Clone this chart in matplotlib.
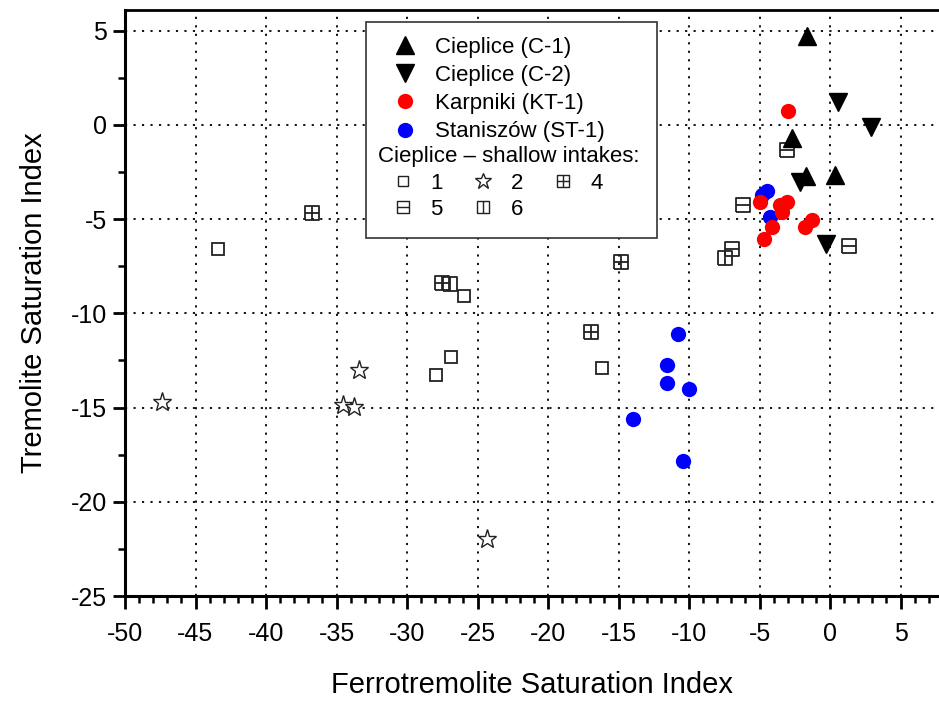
import matplotlib
matplotlib.use("Agg")
import matplotlib.pyplot as plt
from matplotlib.path import Path
from matplotlib.lines import Line2D
from matplotlib.patches import Rectangle
from matplotlib.ticker import MultipleLocator

plt.rcParams['font.family'] = ['Liberation Sans', 'DejaVu Sans']
plt.rcParams['axes.unicode_minus'] = False

# --- data ---
c1_x = [-1.6, -2.7, -1.7, 0.35]
c1_y = [4.7, -0.7, -2.7, -2.65]

c2_x = [0.55, 2.9, -2.15, -0.3]
c2_y = [1.2, -0.1, -3.05, -6.3]

kt_x = [-3.0, -4.95, -3.55, -3.05, -3.4, -4.1, -4.7, -1.3, -1.75]
kt_y = [0.75, -4.1, -4.25, -4.1, -4.6, -5.4, -6.05, -5.05, -5.4]

st_x = [-4.5, -4.8, -4.25, -10.8, -11.55, -11.55, -10.0, -14.0, -10.45]
st_y = [-3.5, -3.7, -4.9, -11.1, -12.75, -13.7, -14.0, -15.6, -17.85]

# shallow intakes
s1_x = [-43.4, -25.95, -26.9, -27.95, -16.2]
s1_y = [-6.6, -9.1, -12.3, -13.25, -12.9]

s2_x = [-47.4, -33.4, -34.55, -33.75, -24.35]
s2_y = [-14.7, -13.0, -14.85, -14.95, -22.0]

s4_x = [-36.75, -27.5, -14.8, -16.95]
s4_y = [-4.7, -8.4, -7.25, -11.0]

s5_x = [-6.95, -6.15, -3.05, 1.35]
s5_y = [-6.6, -4.25, -1.35, -6.4]

s6_x = [-26.95, -7.45]
s6_y = [-8.45, -7.05]


def box_marker(inner):
    verts = [(-1, -1), (1, -1), (1, 1), (-1, 1), (-1, -1)]
    codes = [Path.MOVETO] + [Path.LINETO] * 4
    if 'h' in inner:
        verts += [(-1, 0), (1, 0)]
        codes += [Path.MOVETO, Path.LINETO]
    if 'v' in inner:
        verts += [(0, -1), (0, 1)]
        codes += [Path.MOVETO, Path.LINETO]
    return Path(verts, codes)

m_grid = box_marker('hv')
m_hbar = box_marker('h')
m_vbar = box_marker('v')

fig = plt.figure(figsize=(9.39, 7.01), dpi=100)
ax = fig.add_axes([125/939, 1 - 596/701, 1 - 125/939, (596 - 10)/701])

open_kw = dict(ls='none', mfc='none', mec='#222222', mew=1.3)
ax.plot(s1_x, s1_y, marker='s', ms=9, **open_kw)
ax.plot(s2_x, s2_y, marker='*', ms=14, mew=1.0, ls='none', mfc='white', mec='#222222')
ax.plot(s4_x, s4_y, marker=m_grid, ms=10, **open_kw)
ax.plot(s5_x, s5_y, marker=m_hbar, ms=10, **open_kw)
ax.plot(s6_x, s6_y, marker=m_vbar, ms=10, **open_kw)

ax.plot(st_x, st_y, ls='none', marker='o', ms=11, color='#0000ff', mec='none')
ax.plot(kt_x, kt_y, ls='none', marker='o', ms=11, color='#ff0000', mec='none')
ax.plot(c1_x, c1_y, ls='none', marker='^', ms=13, color='black')
ax.plot(c2_x, c2_y, ls='none', marker='v', ms=13, color='black')

ax.set_xlim(-50, -50 + (939 - 125)/14.1)
ax.set_ylim(-25, 6.1)
ax.xaxis.set_major_locator(MultipleLocator(5))
ax.xaxis.set_minor_locator(MultipleLocator(1))
ax.yaxis.set_major_locator(MultipleLocator(5))
ax.yaxis.set_minor_locator(MultipleLocator(2.5))

ax.grid(True, which='major', color='black', ls=(0, (1.2, 3.5)), lw=1.3)
ax.set_axisbelow(True)

for side in ['left', 'bottom']:
    ax.spines[side].set_linewidth(2.2)
ax.spines['top'].set_linewidth(2.0)
ax.spines['right'].set_visible(False)

ax.tick_params(which='major', direction='out', length=9, width=2.0)
ax.tick_params(which='minor', direction='out', length=5, width=1.8)
ax.tick_params(axis='x', labelsize=18, pad=10)
ax.tick_params(axis='y', labelsize=18, pad=4)
ax.tick_params(axis='x', which='both', top=False)
ax.tick_params(axis='y', which='both', right=False)

ax.set_xlabel('Ferrotremolite Saturation Index', fontsize=21, labelpad=18)
ax.set_ylabel('Tremolite Saturation Index', fontsize=21, labelpad=16)

# legend frame
frame = Rectangle((366/939, 1 - 238/701), (657 - 366)/939, (238 - 22)/701,
                  transform=fig.transFigure, facecolor='white', edgecolor='#333333',
                  lw=1.2, zorder=5)
fig.add_artist(frame)

h_main = [
    Line2D([], [], ls='none', marker='^', ms=13, color='black'),
    Line2D([], [], ls='none', marker='v', ms=13, color='black'),
    Line2D([], [], ls='none', marker='o', ms=11, color='#ff0000', mec='none'),
    Line2D([], [], ls='none', marker='o', ms=11, color='#0000ff', mec='none'),
]
l_main = ['Cieplice (C-1)', 'Cieplice (C-2)', 'Karpniki (KT-1)', 'Staniszów (ST-1)']
leg1 = fig.legend(h_main, l_main, loc='upper left', bbox_to_anchor=(392/939, 1 - 37/701),
                  frameon=False, fontsize=16, handlelength=1.2, handletextpad=0.72,
                  labelspacing=0.32, borderpad=0, borderaxespad=0)
leg1.set_zorder(6)

small_kw = dict(ls='none', mfc='none', mec='#222222', mew=1.0)
h_sh = [
    Line2D([], [], marker='s', ms=7, **small_kw),
    Line2D([], [], marker=m_hbar, ms=8, **small_kw),
    Line2D([], [], marker='*', ms=12, **small_kw),
    Line2D([], [], marker=m_vbar, ms=8, **small_kw),
    Line2D([], [], marker=m_grid, ms=8, **small_kw),
]
l_sh = ['1', '5', '2', '6', '4']
leg2 = fig.legend(h_sh, l_sh, loc='upper left', bbox_to_anchor=(378/939, 1 - 146/701),
                  frameon=False, fontsize=16, ncol=3, title='Cieplice – shallow intakes:',
                  title_fontsize=16, alignment='left', handlelength=2.25, handletextpad=0.1,
                  columnspacing=0.7, labelspacing=0.25, borderpad=0, borderaxespad=0)
leg2.set_zorder(6)

fig.savefig('out.png', dpi=100)
